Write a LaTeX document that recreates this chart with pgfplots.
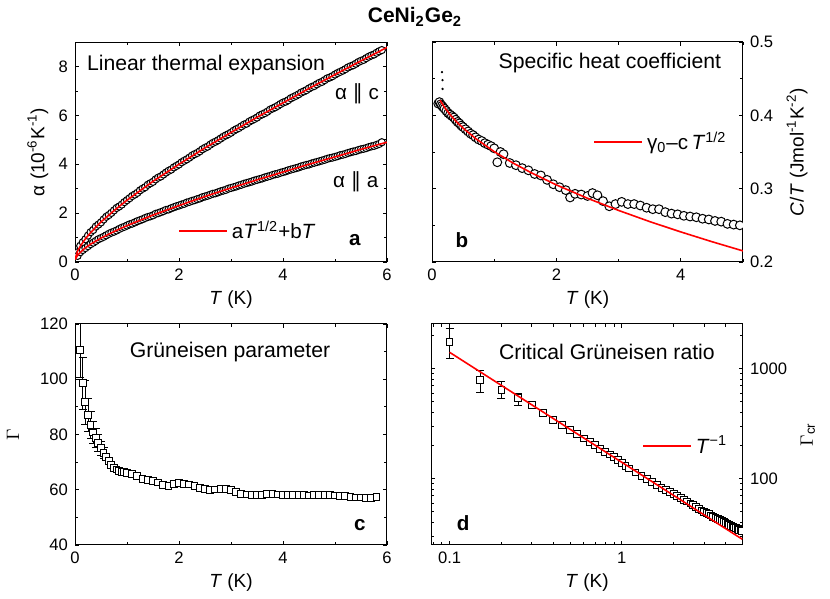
\documentclass[border=0pt]{standalone}
\usepackage{fontspec}
\setmainfont{Liberation Sans}
\newfontfamily\djv{DejaVu Sans}
\usepackage{pgfplots}
\pgfplotsset{compat=1.18}
\pgfplotsset{
 myax/.style={scale only axis, width=156pt, height=110pt,
   clip marker paths=true,
   tick align=inside, major tick length=2.2pt, minor tick length=1.6pt,
   every tick/.style={black, line width=0.4pt},
   axis line style={line width=0.5pt},
   /pgf/number format/assume math mode=true,
   tick label style={font=\fontsize{8.3}{10}\selectfont},
   label style={font=\fontsize{9.5}{11}\selectfont},
   xlabel style={at={(axis description cs:0.5,-0.172)}, anchor=center},
   legend style={draw=none, fill=none, inner sep=0pt, font=\fontsize{10.3}{12}\selectfont, anchor=west},
 },
 circ/.style={only marks, mark=*, mark size=#1, mark options={fill=white, draw=black, line width=0.5pt}},
 sq/.style={only marks, mark=square*, mark size=1.7pt, mark options={fill=white, draw=black, line width=0.5pt}},
 fitl/.style={red, line width=0.8pt, no marks},
}
\newcommand{\inl}{\fontsize{10.3}{12}\selectfont}
\newcommand{\ttl}{\fontsize{10.6}{12}\selectfont}
\begin{document}
\begin{tikzpicture}
\useasboundingbox (0,0) rectangle (415pt,299.5pt);
\node[anchor=base, font=\bfseries\fontsize{10.5}{12}\selectfont] at (207.5pt,288pt) {CeNi\textsubscript{2}Ge\textsubscript{2}};

% ---------------- panel a
\begin{axis}[myax, at={(37.5pt,168.5pt)}, anchor=south west,
  xmin=0, xmax=6, ymin=0, ymax=9,
  xtick={0,2,4,6}, minor xtick={1,3,5},
  ytick={0,2,4,6,8}, minor ytick={1,3,5,7},
  xlabel={\textit{T} (K)},
  ylabel={α (10\textsuperscript{-6}K\textsuperscript{-1})},
  ylabel style={at={(axis description cs:-0.119,0.5)}, anchor=center},
  legend style={at={(axis description cs:0.330,0.141)}},
  legend image code/.code={\draw[#1] (0pt,0pt) -- (24pt,0pt);},
]
\addplot[circ=1.8pt, forget plot] table {
0.05 0.40
0.1 0.66
0.15 0.81
0.2 0.93
0.25 1.08
0.3 1.22
0.35 1.31
0.4 1.45
0.45 1.53
0.5 1.62
0.55 1.74
0.6 1.85
0.65 1.92
0.7 2.01
0.75 2.11
0.8 2.21
0.85 2.27
0.9 2.35
0.95 2.45
1.0 2.53
1.05 2.61
1.1 2.70
1.15 2.76
1.2 2.83
1.25 2.93
1.3 3.00
1.35 3.06
1.4 3.16
1.45 3.22
1.5 3.28
1.55 3.38
1.6 3.45
1.65 3.50
1.7 3.58
1.75 3.66
1.8 3.73
1.85 3.78
1.9 3.87
1.95 3.93
2.0 3.99
2.05 4.08
2.1 4.14
2.15 4.20
2.2 4.27
2.25 4.35
2.3 4.41
2.35 4.46
2.4 4.53
2.45 4.61
2.5 4.67
2.55 4.72
2.6 4.80
2.65 4.87
2.7 4.92
2.75 4.98
2.8 5.05
2.85 5.12
2.9 5.18
2.95 5.23
3.0 5.29
3.05 5.37
3.1 5.43
3.15 5.48
3.2 5.55
3.25 5.62
3.3 5.66
3.35 5.74
3.4 5.80
3.45 5.85
3.5 5.91
3.55 5.99
3.6 6.04
3.65 6.09
3.7 6.15
3.75 6.23
3.8 6.28
3.85 6.33
3.9 6.39
3.95 6.46
4.0 6.52
4.05 6.56
4.1 6.62
4.15 6.70
4.2 6.75
4.25 6.80
4.3 6.86
4.35 6.93
4.4 6.98
4.45 7.03
4.5 7.10
4.55 7.16
4.6 7.20
4.65 7.27
4.7 7.33
4.75 7.37
4.8 7.44
4.85 7.51
4.9 7.55
4.95 7.60
5.0 7.67
5.05 7.73
5.1 7.78
5.15 7.83
5.2 7.89
5.25 7.96
5.3 8.01
5.35 8.05
5.4 8.11
5.45 8.18
5.5 8.23
5.55 8.27
5.6 8.34
5.65 8.40
5.7 8.45
5.75 8.49
5.8 8.56
5.85 8.62
5.9 8.67
};
\addplot[circ=1.8pt, forget plot] table {
0.05 0.25
0.1 0.40
0.15 0.49
0.2 0.57
0.25 0.65
0.3 0.73
0.35 0.79
0.4 0.86
0.45 0.93
0.5 0.98
0.55 1.03
0.6 1.09
0.65 1.15
0.7 1.20
0.75 1.24
0.8 1.29
0.85 1.35
0.9 1.40
0.95 1.44
1.0 1.49
1.05 1.54
1.1 1.57
1.15 1.62
1.2 1.67
1.25 1.71
1.3 1.75
1.35 1.80
1.4 1.84
1.45 1.87
1.5 1.91
1.55 1.97
1.6 2.00
1.65 2.04
1.7 2.08
1.75 2.13
1.8 2.15
1.85 2.20
1.9 2.24
1.95 2.28
2.0 2.31
2.05 2.35
2.1 2.38
2.15 2.43
2.2 2.46
2.25 2.50
2.3 2.53
2.35 2.57
2.4 2.60
2.45 2.65
2.5 2.68
2.55 2.71
2.6 2.75
2.65 2.79
2.7 2.81
2.75 2.85
2.8 2.89
2.85 2.92
2.9 2.95
2.95 3.00
3.0 3.03
3.05 3.06
3.1 3.09
3.15 3.13
3.2 3.16
3.25 3.20
3.3 3.23
3.35 3.26
3.4 3.29
3.45 3.33
3.5 3.36
3.55 3.39
3.6 3.42
3.65 3.46
3.7 3.49
3.75 3.52
3.8 3.56
3.85 3.59
3.9 3.61
3.95 3.65
4.0 3.68
4.05 3.71
4.1 3.75
4.15 3.78
4.2 3.81
4.25 3.84
4.3 3.87
4.35 3.91
4.4 3.94
4.45 3.97
4.5 3.99
4.55 4.03
4.6 4.06
4.65 4.09
4.7 4.12
4.75 4.15
4.8 4.18
4.85 4.22
4.9 4.25
4.95 4.27
5.0 4.30
5.05 4.33
5.1 4.37
5.15 4.39
5.2 4.42
5.25 4.46
5.3 4.49
5.35 4.52
5.4 4.54
5.45 4.58
5.5 4.61
5.55 4.63
5.6 4.66
5.65 4.70
5.7 4.73
5.75 4.75
5.8 4.79
5.85 4.83
5.9 4.90
};
\addplot[fitl] table {
0 0.1
0.05 0.45
0.1 0.64
0.2 0.95
0.3 1.20
0.5 1.64
0.75 2.10
1 2.53
1.5 3.30
2 4.00
2.5 4.67
3 5.30
3.5 5.92
4 6.51
4.5 7.10
5 7.67
5.5 8.23
6 8.78
};
\addlegendentry{a\textit{T}\textsuperscript{1/2}+b\textit{T}}
\addplot[fitl, forget plot] table {
0 0.1
0.05 0.27
0.1 0.39
0.2 0.58
0.3 0.73
0.5 0.98
0.75 1.245
1 1.49
1.5 1.92
2 2.31
2.5 2.68
3 3.03
3.5 3.36
4 3.68
4.5 4.00
5 4.30
5.5 4.61
6 4.90
};
\node[font=\ttl] at (rel axis cs:0.42,0.895) {Linear thermal expansion};
\node[font=\inl] at (rel axis cs:0.904,0.764) {α {\djv ∥} c};
\node[font=\inl] at (rel axis cs:0.900,0.364) {α {\djv ∥} a};
\node[font=\inl\bfseries] at (rel axis cs:0.897,0.10) {a};
\end{axis}

% ---------------- panel b
\begin{axis}[myax, at={(216pt,168.5pt)}, anchor=south west, width=155.5pt,
  xmin=0, xmax=5, ymin=0.2, ymax=0.5,
  xtick={0,2,4}, minor xtick={1,3,5},
  ytick={0.2,0.3,0.4,0.5}, minor ytick={0.25,0.35,0.45},
  yticklabel pos=right, ytick pos=both,
  yticklabel style={/pgf/number format/fixed, /pgf/number format/precision=1, /pgf/number format/fixed zerofill},
  xlabel={\textit{T} (K)},
  ylabel={\textit{C}/\textit{T} (Jmol\textsuperscript{-1}K\textsuperscript{-2})},
  ylabel style={at={(axis description cs:1.174,0.5)}, anchor=center, rotate=0},
  legend style={at={(axis description cs:0.518,0.545)}},
  legend image code/.code={\draw[#1] (0pt,0pt) -- (24pt,0pt);},
]
\addplot[only marks, mark=*, mark size=0.35pt, black, forget plot] table {
0.16 0.459
0.17 0.448
0.17 0.436
};
\addplot[circ=2.2pt, forget plot] table {
0.10 0.416
0.12 0.418
0.14 0.415
0.16 0.413
0.18 0.411
0.20 0.409
0.23 0.406
0.26 0.403
0.29 0.401
0.32 0.399
0.35 0.397
0.38 0.394
0.41 0.391
0.44 0.389
0.47 0.386
0.50 0.384
0.54 0.381
0.58 0.378
0.62 0.375
0.66 0.373
0.70 0.370
0.75 0.367
0.80 0.365
0.85 0.362
0.90 0.360
0.95 0.358
1.00 0.355
1.05 0.336
1.10 0.350
1.15 0.347
1.25 0.335
1.35 0.332
1.45 0.328
1.55 0.325
1.65 0.320
1.75 0.318
1.85 0.312
1.95 0.306
2.05 0.302
2.15 0.298
2.22 0.288
2.30 0.293
2.40 0.292
2.50 0.290
2.58 0.294
2.66 0.291
2.75 0.283
2.85 0.276
2.95 0.279
3.05 0.282
3.15 0.279
3.25 0.279
3.35 0.277
3.45 0.274
3.55 0.272
3.65 0.272
3.75 0.268
3.85 0.266
3.95 0.265
4.05 0.263
4.15 0.262
4.25 0.261
4.35 0.259
4.45 0.258
4.55 0.256
4.65 0.255
4.75 0.252
4.85 0.251
4.95 0.250
};
\addplot[fitl] table {
0.13 0.4205
0.2 0.411
0.3 0.400
0.4 0.3907
0.5 0.3826
0.7 0.3684
1.0 0.3505
1.3 0.3351
1.6 0.3215
2.0 0.3051
2.5 0.2869
3.0 0.2703
3.5 0.2551
4.0 0.2410
4.5 0.2277
5.0 0.2151
};
\addlegendentry{γ\textsubscript{0}–c\,\textit{T}\textsuperscript{1/2}}
\node[font=\ttl] at (rel axis cs:0.572,0.905) {Specific heat coefficient};
\node[font=\inl\bfseries] at (rel axis cs:0.096,0.10) {b};
\end{axis}

% ---------------- panel c
\begin{axis}[myax, at={(37.5pt,27pt)}, anchor=south west, height=110.5pt,
  xmin=0, xmax=6, ymin=40, ymax=120,
  xtick={0,2,4,6}, minor xtick={1,3,5},
  ytick={40,60,80,100,120}, minor ytick={50,70,90,110},
  xlabel={\textit{T} (K)},
  ylabel={$\Gamma$},
  ylabel style={at={(axis description cs:-0.199,0.5)}, anchor=center},
]
\addplot[sq, error bars/.cd, y dir=both, y explicit,
  error bar style={black, line width=0.4pt},
  error mark options={rotate=90, mark size=2pt, black, line width=0.4pt}]
  table[x index=0, y index=1, y error index=2] {
0.10 110.5 10
0.15 98.5 9.5
0.20 91.7 8
0.25 87.1 6
0.30 83.5 5
0.35 80.7 4
0.40 78.7 3.5
0.45 76.9 3
0.50 75.0 2.5
0.55 73.4 2
};
\addplot[sq] table {
0.60 71.8
0.65 70.3
0.70 69.0
0.75 68.0
0.80 67.3
0.85 66.8
0.90 66.5
0.95 66.3
1.00 66.1
1.1 65.6
1.2 65.1
1.3 63.9
1.4 63.5
1.5 63.2
1.6 62.6
1.7 61.6
1.8 61.4
1.9 62.2
2.0 62.3
2.1 62.2
2.2 61.9
2.3 61.3
2.4 60.7
2.5 60.3
2.6 59.9
2.7 60.1
2.8 60.4
2.9 60.3
3.0 59.8
3.1 59.2
3.2 58.6
3.3 58.3
3.4 58.2
3.5 58.2
3.6 58.2
3.7 58.4
3.8 58.4
3.9 58.3
4.0 58.2
4.1 58.1
4.2 58.0
4.3 58.0
4.4 58.0
4.5 57.9
4.6 58.0
4.7 58.1
4.8 58.0
4.9 58.0
5.0 57.9
5.1 57.8
5.2 57.6
5.3 57.4
5.4 57.2
5.5 57.2
5.6 57.1
5.7 57.0
5.8 57.3
};
\node[font=\ttl] at (rel axis cs:0.497,0.873) {Grüneisen parameter};
\node[font=\inl\bfseries] at (rel axis cs:0.913,0.09) {c};
\end{axis}

% ---------------- panel d
\begin{axis}[myax, at={(215.5pt,27pt)}, anchor=south west, height=110.5pt,
  xmode=log, ymode=log,
  xmin=0.078, xmax=5.05, ymin=25, ymax=2550,
  xtick={0.1,1}, xticklabels={0.1,1},
  minor xtick={0.08,0.09,0.2,0.3,0.4,0.5,0.6,0.7,0.8,0.9,2,3,4,5},
  ytick={100,1000}, yticklabels={100,1000},
  minor ytick={30,40,50,60,70,80,90,200,300,400,500,600,700,800,900,2000},
  yticklabel pos=right, ytick pos=both,
  xlabel={\textit{T} (K)},
  ylabel={$\Gamma$\textsubscript{cr}},
  ylabel style={at={(axis description cs:1.208,0.5)}, anchor=center, rotate=0},
  legend style={at={(axis description cs:0.676,0.448)}},
  legend image code/.code={\draw[#1] (0pt,0pt) -- (24pt,0pt);},
]
\addplot[sq, forget plot, error bars/.cd, y dir=both, y explicit,
  error bar style={black, line width=0.4pt},
  error mark options={rotate=90, mark size=2pt, black, line width=0.4pt}]
  table[x index=0, y index=1, y error plus index=2, y error minus index=3] {
0.10 1750 570 520
0.15 794 170 180
0.20 643 123 103
0.25 540 58 71
0.30 469 20 20
};
\addplot[sq, forget plot] table {
0.35 394
0.40 342
0.45 306
0.50 277
0.55 253
0.60 232
0.65 216
0.70 202
0.75 187
0.80 175
0.85 166
0.90 158
0.95 149
1.00 138
1.05 131
1.1 124
1.2 114
1.3 106
1.4 99
1.5 93
1.6 88
1.7 83
1.8 79
1.9 76
2.0 73
2.1 70
2.2 67
2.3 64.5
2.4 62
2.5 59.5
2.6 57.5
2.7 55.5
2.8 53.5
2.9 51.5
3.0 50
3.1 48.7
3.2 47.5
3.3 46.3
3.4 45.2
3.5 44.1
3.6 43.1
3.7 42.1
3.8 41.2
3.9 40.4
4.0 39.6
4.1 38.8
4.2 38.1
4.3 37.4
4.4 36.7
4.5 36.1
4.6 35.5
4.7 34.9
4.8 34.4
4.9 33.9
5.0 33.4
};
\addplot[fitl] table {
0.1 1410
1 141
5 28.2
};
\addlegendentry{\textit{T}\textsuperscript{−1}}
\node[font=\ttl] at (rel axis cs:0.564,0.873) {Critical Grüneisen ratio};
\node[font=\inl\bfseries] at (rel axis cs:0.103,0.10) {d};
\end{axis}
\end{tikzpicture}
\end{document}
